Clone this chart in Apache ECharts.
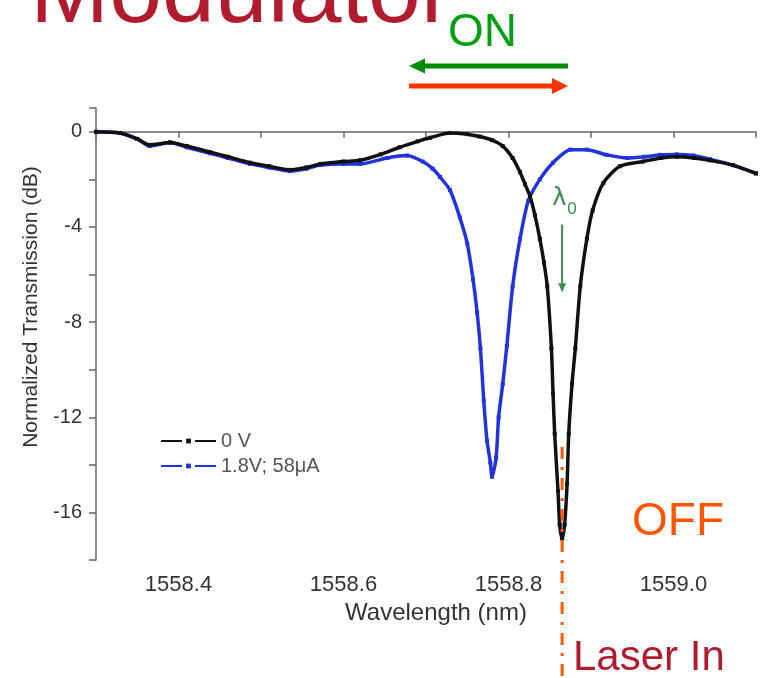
<!DOCTYPE html>
<html>
<head>
<meta charset="utf-8">
<title>Modulator</title>
<script src="https://cdn.jsdelivr.net/npm/echarts@6/dist/echarts.min.js"></script>
<style>
  html, body { margin: 0; padding: 0; background: #fff; }
  #chart { width: 763px; height: 678px; }
</style>
</head>
<body>
<div id="chart"></div>
<script>
// 0 V curve (nm / dB)
const wl0V = [1558.300, 1558.329, 1558.350, 1558.365, 1558.390, 1558.410, 1558.438, 1558.460, 1558.487, 1558.510,
  1558.535, 1558.555, 1558.572, 1558.600, 1558.620, 1558.645, 1558.668, 1558.690, 1558.705, 1558.729,
  1558.750, 1558.765, 1558.780, 1558.793, 1558.805, 1558.814, 1558.820, 1558.826, 1558.832, 1558.838,
  1558.843, 1558.847, 1558.852, 1558.854, 1558.856, 1558.860, 1558.862, 1558.865, 1558.868, 1558.871,
  1558.873, 1558.877, 1558.881, 1558.887, 1558.895, 1558.902, 1558.915, 1558.935, 1558.963, 1558.985,
  1559.004, 1559.025, 1559.044, 1559.072, 1559.100]
const db0V = [0.0, -0.05, -0.3, -0.55, -0.45, -0.6, -0.85, -1.05, -1.3, -1.45,
  -1.6, -1.5, -1.35, -1.25, -1.2, -0.95, -0.65, -0.4, -0.25, -0.05,
  -0.1, -0.2, -0.35, -0.6, -1.1, -1.7, -2.2, -2.7, -3.5, -4.5,
  -5.5, -6.5, -9.1, -11.0, -12.7, -15.1, -16.5, -17.1, -16.5, -14.8,
  -12.7, -10.6, -9.1, -6.5, -4.5, -3.3, -2.15, -1.45, -1.25, -1.1,
  -1.05, -1.1, -1.2, -1.4, -1.75]

// 1.8V; 58uA curve
const wlBias = [1558.300, 1558.329, 1558.350, 1558.365, 1558.390, 1558.410, 1558.438, 1558.460, 1558.487, 1558.510,
  1558.535, 1558.555, 1558.572, 1558.600, 1558.620, 1558.653, 1558.677, 1558.696, 1558.708, 1558.717,
  1558.729, 1558.741, 1558.750, 1558.757, 1558.762, 1558.766, 1558.770, 1558.774, 1558.778, 1558.780,
  1558.785, 1558.788, 1558.793, 1558.798, 1558.805, 1558.814, 1558.824, 1558.838, 1558.854, 1558.875,
  1558.895, 1558.919, 1558.944, 1558.965, 1558.984, 1559.004, 1559.024, 1559.044, 1559.072, 1559.100]
const dbBias = [0.0, -0.05, -0.3, -0.6, -0.45, -0.65, -0.9, -1.1, -1.35, -1.5,
  -1.65, -1.55, -1.4, -1.35, -1.35, -1.1, -1.0, -1.25, -1.55, -1.9,
  -2.45, -3.6, -4.7, -6.2, -7.6, -9.1, -11.3, -13.0, -13.9, -14.5,
  -13.7, -12.0, -10.6, -9.0, -6.5, -4.5, -2.9, -2.0, -1.3, -0.75,
  -0.75, -0.97, -1.1, -1.05, -0.97, -0.95, -1.0, -1.15, -1.4, -1.75]

const seriesNames = ['0 V', '1.8V; 58μA']
// laser / resonance wavelength (lambda_0)
const laserWl = 1558.865

const FONT = 'Liberation Sans, Arial, sans-serif'

function pairs(xs, ys) {
  return xs.map((x, i) => [x, ys[i]])
}

const chart = echarts.init(document.getElementById('chart'))

const option = {
  backgroundColor: '#fff',
  animation: false,
  grid: { left: 96, right: 7, top: 108, bottom: 118 },
  legend: {
    orient: 'vertical',
    left: 155,
    top: 426,
    itemWidth: 55,
    itemHeight: 6,
    itemGap: 5,
    data: seriesNames,
    lineStyle: { type: [21, 13] },
    textStyle: { fontSize: 20, color: '#555', fontFamily: FONT }
  },
  xAxis: {
    type: 'value',
    min: 1558.3,
    max: 1559.1,
    interval: 0.1,
    name: 'Wavelength (nm)',
    nameLocation: 'middle',
    nameGap: 40,
    nameTextStyle: { fontSize: 24, color: '#333', fontFamily: FONT, padding: [0, 0, 0, 20] },
    splitLine: { show: false },
    axisLine: { lineStyle: { color: '#666', width: 1.5 } },
    axisTick: { length: 6, lineStyle: { color: '#666', width: 1.5 } },
    axisLabel: {
      fontSize: 22,
      color: '#333',
      fontFamily: FONT,
      margin: 14,
      formatter: function (v) {
        return Math.round(v * 10) % 2 === 0 ? v.toFixed(1) : ''
      }
    }
  },
  yAxis: {
    type: 'value',
    min: -18,
    max: 1,
    interval: 2,
    name: 'Normalized Transmission (dB)',
    nameLocation: 'middle',
    nameGap: 52,
    nameTextStyle: { fontSize: 21, color: '#333', fontFamily: FONT, padding: [0, 0, 0, 54] },
    splitLine: { show: false },
    axisLine: { show: true, lineStyle: { color: '#666', width: 1.5 } },
    axisTick: { show: true, length: 7, lineStyle: { color: '#666', width: 1.5 } },
    axisLabel: {
      fontSize: 20,
      color: '#333',
      fontFamily: FONT,
      margin: 14,
      formatter: function (v) {
        return Math.round(v) % 4 === 0 ? String(v) : ''
      }
    }
  },
  series: [
    {
      name: seriesNames[1],
      type: 'line',
      data: pairs(wlBias, dbBias),
      smooth: 0.25,
      symbol: 'rect',
      symbolSize: 4,
      color: '#2233DD',
      lineStyle: { width: 3.5, color: '#2233DD' },
      z: 2
    },
    {
      name: seriesNames[0],
      type: 'line',
      data: pairs(wl0V, db0V),
      smooth: 0.25,
      symbol: 'rect',
      symbolSize: 4,
      color: '#111',
      lineStyle: { width: 3.5, color: '#111' },
      z: 3
    }
  ]
}
chart.setOption(option)

// annotations
const top0 = chart.convertToPixel({ gridIndex: 0 }, [laserWl, -3.9])
const bot0 = chart.convertToPixel({ gridIndex: 0 }, [laserWl, -6.75])
const dashTop = chart.convertToPixel({ gridIndex: 0 }, [laserWl, -13.25])
const lx = top0[0]
const green = '#008C00'
const red = '#FF3300'
const lamGreen = '#3A8F50'

chart.setOption({
  graphic: [
    { type: 'text', x: 30, y: -4, style: { text: 'Modulator', fontSize: 95, fontFamily: FONT, fill: '#B01C2E', verticalAlign: 'middle' } },
    { type: 'text', x: 448, y: 33, style: { text: 'ON', fontSize: 46, fontFamily: FONT, fill: '#00A010', verticalAlign: 'middle' } },
    { type: 'line', shape: { x1: 423, y1: 66, x2: 568, y2: 66 }, style: { stroke: green, lineWidth: 5 } },
    { type: 'polygon', shape: { points: [[409, 66], [425, 58.5], [425, 73.5]] }, style: { fill: green } },
    { type: 'line', shape: { x1: 409, y1: 86, x2: 554, y2: 86 }, style: { stroke: red, lineWidth: 5 } },
    { type: 'polygon', shape: { points: [[568, 86], [552, 78], [552, 94]] }, style: { fill: red } },
    { type: 'text', x: lx - 10, y: 199, style: { text: 'λ', fontSize: 24, fontFamily: 'DejaVu Sans, sans-serif', fill: lamGreen, verticalAlign: 'middle' } },
    { type: 'text', x: lx + 5, y: 209, style: { text: '0', fontSize: 17, fontFamily: FONT, fill: lamGreen, verticalAlign: 'middle' } },
    { type: 'line', shape: { x1: lx, y1: top0[1], x2: lx, y2: bot0[1] - 6 }, style: { stroke: lamGreen, lineWidth: 2 } },
    { type: 'polygon', shape: { points: [[lx, bot0[1]], [lx - 4, bot0[1] - 9], [lx + 4, bot0[1] - 9]] }, style: { fill: lamGreen } },
    { type: 'line', z: 10, shape: { x1: lx, y1: dashTop[1], x2: lx, y2: 678 }, style: { stroke: '#FF5A00', lineWidth: 3, lineDash: [12, 8, 3, 8] } },
    { type: 'text', x: 632, y: 522, style: { text: 'OFF', fontSize: 46, fontFamily: FONT, fill: '#FF5500', verticalAlign: 'middle' } },
    { type: 'text', x: 573, y: 658, style: { text: 'Laser In', fontSize: 42, fontFamily: FONT, fill: '#B01C2E', verticalAlign: 'middle' } }
  ]
})
</script>
</body>
</html>
